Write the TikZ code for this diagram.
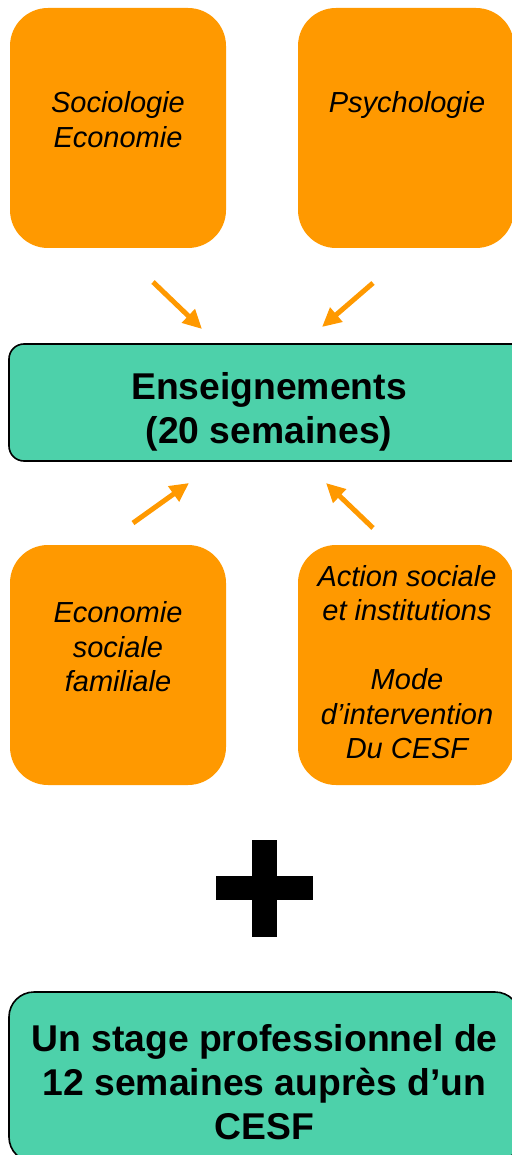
\documentclass[tikz,border=0pt]{standalone}
\usepackage{fontspec}
\setmainfont{Liberation Sans}
\usepackage{xcolor}
\usetikzlibrary{arrows.meta}

\definecolor{orangebox}{RGB}{255,153,0}
\definecolor{greenbox}{RGB}{77,209,170}

\begin{document}
\begin{tikzpicture}[x=1pt,y=-1pt,% styles
          matiere/.style={
              rectangle,
              fill=orangebox,
              rounded corners=38pt,
              minimum width=216pt,
              minimum height=240pt,
              inner sep=0pt
            },bloc/.style={
              rectangle,
              draw=black,
              line width=1.6pt,
              fill=greenbox,
              inner sep=0pt
            },itxt/.style={
              anchor=north,
              align=center,
              inner sep=0pt,
              font=\fontsize{29}{34.5}\selectfont\itshape
            },btxt/.style={
              anchor=north,
              align=center,
              inner sep=0pt,
              font=\fontsize{37.3}{44}\selectfont\bfseries
            },fleche/.style={
              draw=orangebox,
              line width=5pt,
              -{Triangle[length=19pt,width=18pt]}
            }
        ]
        \useasboundingbox (0,0) rectangle (511,1155);

        % matieres du haut
        \node[matiere] (soc) at (118,128) {};
        \node[matiere] (psy) at (406,128) {};
        \node[itxt] (soct) at (118,91.5) {Sociologie\\Economie};
        \node[itxt] (psyt) at (407,91.5) {Psychologie};

        % bloc central
        \node[bloc,
          rounded corners=15pt,
          minimum width=520pt,
          minimum height=117pt
        ] (ens) at (269,402.5) {};
        \node[btxt] (enst) at (269,372) {Enseignements\\(20 semaines)};

        % matieres du bas
        \node[matiere] (esf) at (118,665) {};
        \node[matiere] (act) at (406,665) {};
        \node[itxt] (esft) at (118,601.5) {Economie\\sociale\\familiale};
        \node[itxt] (actt) at (407,565) {Action sociale\\et institutions\\[34.5pt]Mode\\d’intervention\\Du CESF};

        % fleches
        \coordinate (socfrom) at (153,282);
        \coordinate (socto) at (202,329);
        \coordinate (psyfrom) at (373,283);
        \coordinate (psyto) at (322,327);
        \coordinate (esffrom) at (133,523);
        \coordinate (esfto) at (189,483);
        \coordinate (actfrom) at (373,528);
        \coordinate (actto) at (326,483);
        \draw[fleche] (socfrom) -- (socto);
        \draw[fleche] (psyfrom) -- (psyto);
        \draw[fleche] (esffrom) -- (esfto);
        \draw[fleche] (actfrom) -- (actto);

        % signe plus
        \fill[black] (252,840) rectangle (277,937);
        \fill[black] (216,876) rectangle (313,900);

        % stage
        \node[bloc,
          rounded corners=25pt,
          minimum width=511pt,
          minimum height=170pt
        ] (stage) at (264.5,1077) {};
        \node[btxt] (staget) at (264.5,1024.5) {Un stage professionnel de\\12 semaines auprès d’un\\CESF};
      \end{tikzpicture}
\end{document}
